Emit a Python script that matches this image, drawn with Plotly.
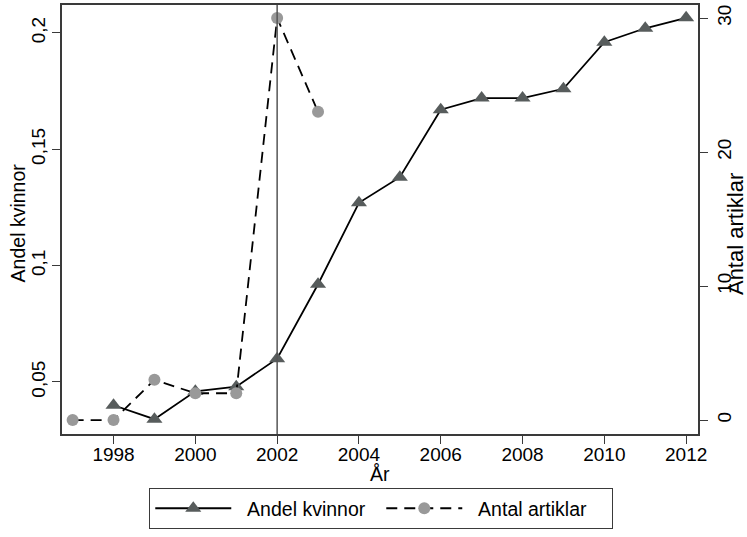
import plotly.graph_objects as go

years_andel = [1998, 1999, 2000, 2001, 2002, 2003, 2004, 2005, 2006, 2007, 2008, 2009, 2010, 2011, 2012]
andel_kvinnor = [0.040, 0.034, 0.046, 0.048, 0.060, 0.092, 0.127, 0.138, 0.167, 0.172, 0.172, 0.176, 0.196, 0.202, 0.2065]

years_antal = [1997, 1998, 1999, 2000, 2001, 2002, 2003]
antal_artiklar = [0, 0, 3, 2, 2, 30, 23]

x_ticks = [1998, 2000, 2002, 2004, 2006, 2008, 2010, 2012]
left_ticks = [0.05, 0.1, 0.15, 0.2]
left_labels = ["0,05", "0,1", "0,15", "0,2"]
right_ticks = [0, 10, 20, 30]
vline_year = 2002

x_title = "År"
left_title = "Andel kvinnor"
right_title = "Antal artiklar"

FONT = "Liberation Sans, Arial, sans-serif"
AX = "#3a3a3a"
FS = 19
TFS = 19.5

fig = go.Figure()
fig.add_trace(go.Scatter(
    x=years_andel, y=andel_kvinnor, name="\u00a0\u00a0Andel kvinnor",
    mode="lines+markers",
    line=dict(color="black", width=1.8),
    marker=dict(symbol="triangle-up", size=14, color="#575c5c"),
    yaxis="y",
))
fig.add_trace(go.Scatter(
    x=years_antal, y=antal_artiklar, name="\u00a0\u00a0Antal artiklar",
    mode="lines+markers",
    line=dict(color="black", width=1.8, dash="11px,7px"),
    marker=dict(symbol="circle", size=12, color="#999999"),
    yaxis="y2",
))

fig.add_vline(x=vline_year, line=dict(color="#555555", width=1.5))

fig.add_annotation(text=left_title, xref="paper", yref="paper", x=-0.070, y=0.492,
                   textangle=-90, showarrow=False, xanchor="center", yanchor="middle",
                   font=dict(size=TFS))
fig.add_annotation(text=right_title, xref="paper", yref="paper", x=1.059, y=0.465,
                   textangle=-90, showarrow=False, xanchor="center", yanchor="middle",
                   font=dict(size=22))
fig.add_annotation(text=x_title, xref="paper", yref="paper", x=0.5, y=-0.0932,
                   showarrow=False, xanchor="center", yanchor="middle",
                   font=dict(size=TFS))

fig.update_layout(
    width=747, height=537,
    margin=dict(l=62, r=49, t=5, b=103, autoexpand=False),
    paper_bgcolor="white", plot_bgcolor="white",
    font=dict(family=FONT, size=FS, color="black"),
    showlegend=True,
    legend=dict(
        orientation="h", x=0.502, xanchor="center", y=-0.126, yanchor="top",
        bordercolor=AX, borderwidth=1, font=dict(size=TFS),
        itemwidth=76, entrywidth=140,
    ),
    xaxis=dict(
        range=[1996.74, 2012.29], tickvals=x_ticks, ticks="outside", ticklen=8,
        tickcolor=AX, showline=True, linecolor=AX, linewidth=1.5, mirror=True,
        showgrid=False, zeroline=False, automargin=False, tickfont=dict(size=FS),
        ticklabelstandoff=-6,
    ),
    yaxis=dict(
        range=[0.02765, 0.212], tickvals=left_ticks, ticktext=left_labels,
        ticks="outside", ticklen=8, tickcolor=AX, tickangle=-90,
        showline=True, linecolor=AX, linewidth=1.5, showgrid=False, zeroline=False,
        automargin=False, tickfont=dict(size=FS),
    ),
    yaxis2=dict(
        range=[-1.04, 30.97], tickvals=right_ticks, overlaying="y", side="right",
        ticks="outside", ticklen=8, tickcolor=AX, tickangle=-90,
        showline=True, linecolor=AX, linewidth=1.5, showgrid=False, zeroline=False,
        automargin=False, tickfont=dict(size=FS),
    ),
)

fig.write_html("out.html", config={"displayModeBar": False},
               post_script="document.body.style.margin='0';")
